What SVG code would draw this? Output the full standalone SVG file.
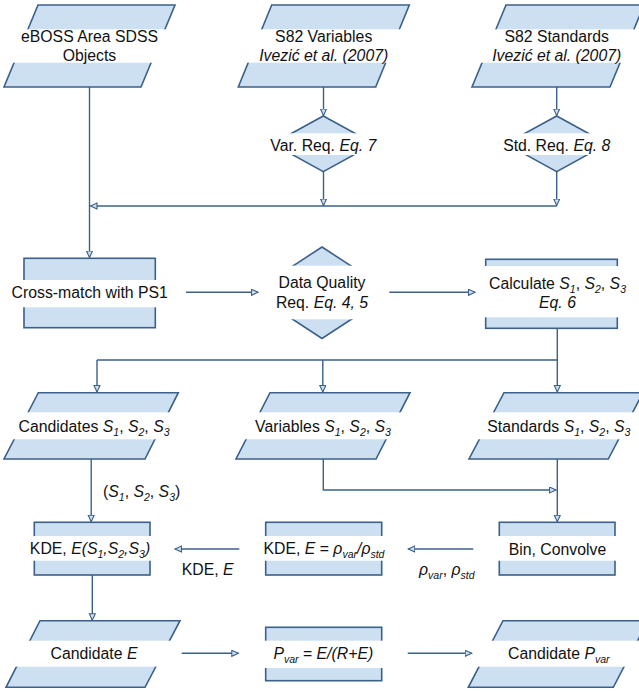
<svg xmlns="http://www.w3.org/2000/svg" width="639" height="692" viewBox="0 0 639 692">
<style>
.s{fill:#cde0f2;stroke:#3b6089;stroke-width:1.6}
.b{fill:#fff}
.t{font-family:"Liberation Sans",Arial,sans-serif;font-size:15.8px;fill:#111;text-anchor:middle}
.l{font-family:"Liberation Sans",Arial,sans-serif;font-size:15.8px;fill:#111}
.i{font-style:italic}
.c{fill:none;stroke:#3b6089;stroke-width:1.4}
</style>
<defs>
<marker id="a" markerUnits="userSpaceOnUse" markerWidth="10" markerHeight="10" refX="7" refY="3.5" orient="auto">
<path d="M0.5,0.5 L7,3.5 L0.5,6.5 Z" fill="#cde0f2" stroke="#3b6089" stroke-width="1.1"/>
</marker>
</defs>
<rect width="639" height="692" fill="#fff"/>
<g id="eboss">
<polygon class="s" points="38,5 175,5 141,87 4,87"/>
<rect class="b" x="0" y="29.3" width="182" height="33.4"/>
<text class="t" x="89.5" y="41.7">eBOSS Area SDSS</text>
<text class="t" x="89.5" y="61">Objects</text>
</g>
<g id="s82var">
<polygon class="s" points="271.7,5 409.3,5 375.7,87 238.3,87"/>
<rect class="b" x="234" y="29.3" width="180" height="33.4"/>
<text class="t" x="323.7" y="41.7">S82 Variables</text>
<text class="t i" x="323.7" y="61">Ivezić et al. (2007)</text>
</g>
<g id="s82std">
<polygon class="s" points="506,5 644,5 610,87 472,87"/>
<rect class="b" x="468" y="29.3" width="171" height="33.4"/>
<text class="t" x="556.7" y="41.7">S82 Standards</text>
<text class="t i" x="556.7" y="61">Ivezić et al. (2007)</text>
</g>
<g id="varreq">
<polygon class="s" points="323.3,116 374,143.8 323.3,171.7 272.6,143.8"/>
<rect class="b" x="264" y="133.3" width="120" height="21.7"/>
<text class="t" x="323.3" y="150.5">Var. Req. <tspan class="i">Eq. 7</tspan></text>
</g>
<g id="stdreq">
<polygon class="s" points="556.7,116 607.4,143.8 556.7,171.7 506,143.8"/>
<rect class="b" x="497" y="133.3" width="120" height="21.7"/>
<text class="t" x="556.7" y="150.5">Std. Req. <tspan class="i">Eq. 8</tspan></text>
</g>
<g id="crossmatch">
<rect class="s" x="24" y="258.3" width="131.3" height="69.4"/>
<rect class="b" x="6" y="280" width="168" height="27.3"/>
<text class="t" x="89.7" y="298.3">Cross-match with PS1</text>
</g>
<g id="dataquality">
<polygon class="s" points="322,247 392,292.7 322,338.5 252,292.7"/>
<rect class="b" x="245" y="265.7" width="154" height="53.6"/>
<text class="t" x="322" y="288.3">Data Quality</text>
<text class="t" x="322" y="308.3">Req. <tspan class="i">Eq. 4, 5</tspan></text>
</g>
<g id="calculate">
<rect class="s" x="485.7" y="259.3" width="131.6" height="69"/>
<rect class="b" x="482" y="266" width="152" height="51.3"/>
<text class="t" x="557.5" y="289">Calculate <tspan class="i">S</tspan><tspan class="i" font-size="10.5" dy="4">1</tspan><tspan dy="-4">, </tspan><tspan class="i">S</tspan><tspan class="i" font-size="10.5" dy="4">2</tspan><tspan dy="-4">, </tspan><tspan class="i">S</tspan><tspan class="i" font-size="10.5" dy="4">3</tspan></text>
<text class="t i" x="557.5" y="307.7">Eq. 6</text>
</g>
<g id="candidates">
<polygon class="s" points="38.3,392.7 178.3,392.7 145,459 4,459"/>
<rect class="b" x="0" y="412.3" width="184" height="27"/>
<text class="t" x="94" y="431.7">Candidates <tspan class="i">S</tspan><tspan class="i" font-size="10.5" dy="4">1</tspan><tspan dy="-4">, </tspan><tspan class="i">S</tspan><tspan class="i" font-size="10.5" dy="4">2</tspan><tspan dy="-4">, </tspan><tspan class="i">S</tspan><tspan class="i" font-size="10.5" dy="4">3</tspan></text>
</g>
<g id="variables">
<polygon class="s" points="270,392.7 410,392.7 376,459 236,459"/>
<rect class="b" x="232" y="412.3" width="184" height="27"/>
<text class="t" x="323" y="431.7">Variables <tspan class="i">S</tspan><tspan class="i" font-size="10.5" dy="4">1</tspan><tspan dy="-4">, </tspan><tspan class="i">S</tspan><tspan class="i" font-size="10.5" dy="4">2</tspan><tspan dy="-4">, </tspan><tspan class="i">S</tspan><tspan class="i" font-size="10.5" dy="4">3</tspan></text>
</g>
<g id="standards">
<polygon class="s" points="504,392.7 643,392.7 608.3,459 469,459"/>
<rect class="b" x="465" y="412.3" width="174" height="27"/>
<text class="t" x="558.8" y="431.7">Standards <tspan class="i">S</tspan><tspan class="i" font-size="10.5" dy="4">1</tspan><tspan dy="-4">, </tspan><tspan class="i">S</tspan><tspan class="i" font-size="10.5" dy="4">2</tspan><tspan dy="-4">, </tspan><tspan class="i">S</tspan><tspan class="i" font-size="10.5" dy="4">3</tspan></text>
</g>
<g id="kdeE">
<rect class="s" x="34.3" y="522.3" width="115.7" height="52.7"/>
<rect class="b" x="22" y="536" width="138" height="24.7"/>
<text class="t" x="90" y="554">KDE, <tspan class="i">E</tspan><tspan class="i">(S</tspan><tspan class="i" font-size="10.5" dy="4">1</tspan><tspan class="i" dy="-4">,S</tspan><tspan class="i" font-size="10.5" dy="4">2</tspan><tspan class="i" dy="-4">,S</tspan><tspan class="i" font-size="10.5" dy="4">3</tspan><tspan class="i" dy="-4">)</tspan></text>
</g>
<g id="kdeRho">
<rect class="s" x="265.7" y="522.3" width="116" height="52.7"/>
<rect class="b" x="254" y="536" width="140" height="24.7"/>
<text class="t" x="324" y="554">KDE, <tspan class="i">E</tspan> = <tspan class="i">ρ</tspan><tspan class="i" font-size="10.5" dy="4">var</tspan><tspan class="i" dy="-4">/ρ</tspan><tspan class="i" font-size="10.5" dy="4">std</tspan></text>
</g>
<g id="bin">
<rect class="s" x="499.3" y="522.3" width="115.7" height="52.7"/>
<rect class="b" x="495" y="536" width="124" height="24.7"/>
<text class="t" x="557.5" y="555">Bin, Convolve</text>
</g>
<g id="candE">
<polygon class="s" points="40,620.7 180,620.7 145,687.3 6,687.3"/>
<rect class="b" x="0" y="640.7" width="186" height="26"/>
<text class="t" x="94" y="659.3">Candidate <tspan class="i">E</tspan></text>
</g>
<g id="pvar">
<rect class="s" x="265.7" y="627.3" width="116" height="53.4"/>
<rect class="b" x="258" y="640.7" width="132" height="27.3"/>
<text class="t" x="323.3" y="659.3"><tspan class="i">P</tspan><tspan class="i" font-size="10.5" dy="4">var</tspan><tspan dy="-4"> = </tspan><tspan class="i">E/(R+E)</tspan></text>
</g>
<g id="candPvar">
<polygon class="s" points="503,620.7 648,620.7 613.3,687.3 468.3,687.3"/>
<rect class="b" x="464" y="640.7" width="175" height="26"/>
<text class="t" x="558.8" y="659.3">Candidate <tspan class="i">P</tspan><tspan class="i" font-size="10.5" dy="4">var</tspan></text>
</g>
<g id="connectors">
<path class="c" d="M89.5,87 V257.5" marker-end="url(#a)"/>
<path class="c" d="M323.5,87 V115.5" marker-end="url(#a)"/>
<path class="c" d="M556.7,87 V115.5" marker-end="url(#a)"/>
<path class="c" d="M323.5,171.7 V205.5" marker-end="url(#a)"/>
<path class="c" d="M556.7,171.7 V205.5" marker-end="url(#a)"/>
<path class="c" d="M556.7,206 H90.5" marker-end="url(#a)"/>
<path class="c" d="M186,292.3 H258" marker-end="url(#a)"/>
<path class="c" d="M389.3,292.3 H475" marker-end="url(#a)"/>
<path class="c" d="M557.3,328.3 V360 H97"/>
<path class="c" d="M97,360 V392" marker-end="url(#a)"/>
<path class="c" d="M322.8,360 V392" marker-end="url(#a)"/>
<path class="c" d="M557.3,360 V392" marker-end="url(#a)"/>
<path class="c" d="M91.2,459 V521.8" marker-end="url(#a)"/>
<path class="c" d="M323.3,459 V490 H556" marker-end="url(#a)"/>
<path class="c" d="M557.3,459 V521.8" marker-end="url(#a)"/>
<path class="c" d="M473.3,549 H408.3" marker-end="url(#a)"/>
<path class="c" d="M239.3,549 H175" marker-end="url(#a)"/>
<path class="c" d="M92.3,575 V620.2" marker-end="url(#a)"/>
<path class="c" d="M181.7,653.3 H238.3" marker-end="url(#a)"/>
<path class="c" d="M407.7,653.3 H471.7" marker-end="url(#a)"/>
</g>
<g id="labels">
<text class="l" x="103" y="497">(<tspan class="i">S</tspan><tspan class="i" font-size="10.5" dy="4">1</tspan><tspan dy="-4">, </tspan><tspan class="i">S</tspan><tspan class="i" font-size="10.5" dy="4">2</tspan><tspan dy="-4">, </tspan><tspan class="i">S</tspan><tspan class="i" font-size="10.5" dy="4">3</tspan><tspan dy="-4">)</tspan></text>
<text class="l" x="181.7" y="575">KDE, <tspan class="i">E</tspan></text>
<text class="l" x="419" y="575"><tspan class="i">ρ</tspan><tspan class="i" font-size="10.5" dy="4">var</tspan><tspan dy="-4">, </tspan><tspan class="i">ρ</tspan><tspan class="i" font-size="10.5" dy="4">std</tspan></text>
</g>
</svg>
